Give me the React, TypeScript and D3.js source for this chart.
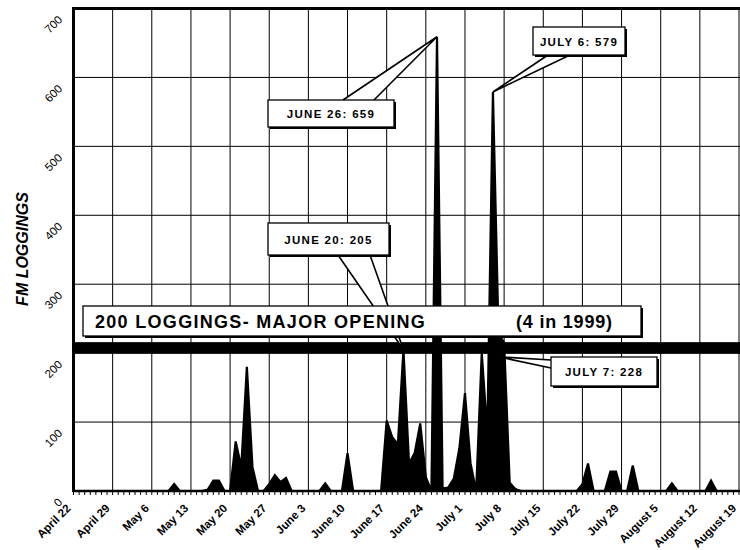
import React, { useEffect, useRef } from 'react';
import * as d3 from 'd3';

// FM loggings per day, 1999 season (only days with activity plus zero anchors)
const logDates = [
    '1999-04-22', '1999-05-09', '1999-05-10', '1999-05-11', '1999-05-15', '1999-05-16', '1999-05-17', '1999-05-18',
    '1999-05-19', '1999-05-20', '1999-05-21', '1999-05-22', '1999-05-23', '1999-05-24', '1999-05-25', '1999-05-26',
    '1999-05-27', '1999-05-28', '1999-05-29', '1999-05-30', '1999-05-31', '1999-06-05', '1999-06-06', '1999-06-07',
    '1999-06-09', '1999-06-10', '1999-06-11', '1999-06-16', '1999-06-17', '1999-06-18', '1999-06-19', '1999-06-20',
    '1999-06-21', '1999-06-22', '1999-06-23', '1999-06-24', '1999-06-25', '1999-06-26', '1999-06-27', '1999-06-28',
    '1999-06-29', '1999-06-30', '1999-07-01', '1999-07-02', '1999-07-03', '1999-07-04', '1999-07-05', '1999-07-06',
    '1999-07-07', '1999-07-08', '1999-07-09', '1999-07-10', '1999-07-11', '1999-07-21', '1999-07-22', '1999-07-23',
    '1999-07-24', '1999-07-26', '1999-07-27', '1999-07-28', '1999-07-29', '1999-07-30', '1999-07-31', '1999-08-01',
    '1999-08-06', '1999-08-07', '1999-08-08', '1999-08-13', '1999-08-14', '1999-08-15', '1999-08-19',
];
const logValues = [
    0, 0, 10, 0, 0, 2, 15, 15,
    0, 0, 72, 35, 180, 35, 0, 0,
    10, 23, 13, 19, 0, 0, 11, 0,
    0, 55, 0, 0, 102, 78, 68, 205,
    40, 55, 98, 20, 0, 659, 4, 5,
    18, 62, 142, 40, 0, 200, 84, 579,
    228, 215, 12, 3, 0, 0, 10, 40,
    0, 0, 28, 28, 0, 0, 37, 0,
    0, 11, 0, 0, 15, 0, 0,
];

const weekLabels = [
    'April 22', 'April 29', 'May 6', 'May 13', 'May 20', 'May 27', 'June 3', 'June 10', 'June 17',
    'June 24', 'July 1', 'July 8', 'July 15', 'July 22', 'July 29', 'August 5', 'August 12', 'August 19',
];
const yTicks = [0, 100, 200, 300, 400, 500, 600, 700];

const MAJOR_OPENING = 200;

const callouts = [
    { date: '1999-06-26', value: 659, label: 'JUNE 26: 659', box: [268, 100, 126, 27], base: [[343, 100], [374, 100]], tipDy: 0 },
    { date: '1999-07-06', value: 579, label: 'JULY 6: 579', box: [533, 27, 92, 28], base: [[548, 55], [570, 55]], tipDy: 0 },
    { date: '1999-06-20', value: 205, label: 'JUNE 20: 205', box: [268, 223, 121, 32], base: [[338, 255], [370, 255]], tipDy: 0 },
    { date: '1999-07-07', value: 228, label: 'JULY 7: 228', box: [551, 357, 106, 29], base: [[551, 360], [551, 368]], tipDy: 23 },
];

const FONT = '"Liberation Sans", Arial, sans-serif';

export default function App() {
    const svgRef = useRef<SVGSVGElement>(null);

    useEffect(() => {
        document.body.style.margin = '0';
        if (!svgRef.current) return;
        const width = 740;
        const height = 550;
        const svg = d3.select(svgRef.current).attr('width', width).attr('height', height);
        svg.selectAll('*').remove();

        const parse = d3.timeParse('%Y-%m-%d');
        const start = parse('1999-04-22')!;
        const end = parse('1999-08-19')!;
        const x = d3.scaleTime().domain([start, end]).range([73.5, 739]);
        const y = d3.scaleLinear().domain([0, 700]).range([491, 8.5]);
        const data = logDates.map((d, i) => ({ date: parse(d)!, value: logValues[i] }));
        const weekDates = weekLabels.map((_, i) => d3.timeDay.offset(start, i * 7));

        svg.append('rect').attr('width', width).attr('height', height).attr('fill', '#fff');

        // grid
        svg.append('g').selectAll('line').data(yTicks.slice(1)).enter().append('line')
            .attr('x1', x(start)).attr('x2', width).attr('y1', d => y(d)).attr('y2', d => y(d))
            .attr('stroke', '#000').attr('stroke-width', 1);
        svg.append('g').selectAll('line').data(weekDates.slice(1)).enter().append('line')
            .attr('x1', d => x(d)).attr('x2', d => x(d)).attr('y1', y(700)).attr('y2', y(0))
            .attr('stroke', '#000').attr('stroke-width', 1);

        // area
        const area = d3.area<{ date: Date; value: number }>()
            .x(d => x(d.date)).y0(y(0)).y1(d => y(d.value));
        svg.append('path').datum(data).attr('d', area)
            .attr('fill', '#000').attr('stroke', '#000').attr('stroke-width', 2.2).attr('stroke-linejoin', 'miter');

        // major opening band
        svg.append('rect').attr('x', x(start)).attr('y', y(MAJOR_OPENING) - 11)
            .attr('width', width - x(start)).attr('height', 11.5).attr('fill', '#000');

        // frame
        svg.append('line').attr('x1', x(start)).attr('x2', x(start)).attr('y1', y(700) - 1.5).attr('y2', y(0) + 1)
            .attr('stroke', '#000').attr('stroke-width', 3);
        svg.append('line').attr('x1', x(start)).attr('x2', width).attr('y1', y(700)).attr('y2', y(700))
            .attr('stroke', '#000').attr('stroke-width', 3);
        svg.append('line').attr('x1', x(start)).attr('x2', width).attr('y1', y(0)).attr('y2', y(0))
            .attr('stroke', '#000').attr('stroke-width', 2.5);

        // daily minor ticks
        const days = d3.timeDay.range(start, d3.timeDay.offset(end, 1));
        svg.append('g').selectAll('line').data(days).enter().append('line')
            .attr('x1', d => x(d)).attr('x2', d => x(d)).attr('y1', y(0)).attr('y2', y(0) + 4)
            .attr('stroke', '#000').attr('stroke-width', 1);

        // y labels
        svg.append('g').selectAll('text').data(yTicks).enter().append('text')
            .attr('transform', d => `translate(63,${y(d) + 12}) rotate(-45)`)
            .attr('text-anchor', 'end').attr('font-family', FONT).attr('font-size', 11.5)
            .attr('fill', '#000').text(d => d);

        // x labels
        svg.append('g').selectAll('text').data(weekDates).enter().append('text')
            .attr('transform', d => `translate(${x(d) - 2},509) rotate(-45)`)
            .attr('text-anchor', 'end').attr('font-family', FONT).attr('font-size', 11.5).attr('font-weight', 'bold')
            .attr('fill', '#000').text((_, i) => weekLabels[i]);

        // y title
        svg.append('text').attr('transform', 'translate(28,249) rotate(-90)')
            .attr('text-anchor', 'middle').attr('font-family', FONT).attr('font-size', 16)
            .attr('font-weight', 'bold').attr('font-style', 'italic').text('FM LOGGINGS');

        const drawBox = (bx: number, by: number, bw: number, bh: number) => {
            svg.append('rect').attr('x', bx + 2).attr('y', by + 2).attr('width', bw).attr('height', bh).attr('fill', '#000');
            svg.append('rect').attr('x', bx).attr('y', by).attr('width', bw).attr('height', bh)
                .attr('fill', '#fff').attr('stroke', '#000').attr('stroke-width', 1.3);
        };

        // callouts
        callouts.forEach(c => {
            const tip: [number, number] = [x(parse(c.date)!), y(c.value) + c.tipDy];
            const [b1, b2] = c.base;
            svg.append('path').attr('d', `M${b1[0]},${b1[1]}L${tip[0]},${tip[1]}L${b2[0]},${b2[1]}Z`)
                .attr('fill', '#fff').attr('stroke', 'none');
            svg.append('path').attr('d', `M${b1[0]},${b1[1]}L${tip[0]},${tip[1]}L${b2[0]},${b2[1]}`)
                .attr('fill', 'none').attr('stroke', '#000').attr('stroke-width', 1.6);
            const [bx, by, bw, bh] = c.box;
            drawBox(bx, by, bw, bh);
            svg.append('text').attr('x', bx + bw / 2).attr('y', by + bh / 2 + 4.5)
                .attr('text-anchor', 'middle').attr('font-family', FONT).attr('font-size', 11.5)
                .attr('font-weight', 'bold').attr('letter-spacing', 1.3).text(c.label);
        });

        // major opening box
        drawBox(83, 306, 558, 30);
        svg.append('text').attr('x', 95).attr('y', 328).attr('font-family', FONT).attr('font-size', 18)
            .attr('font-weight', 'bold').attr('letter-spacing', 1.3).text(`${MAJOR_OPENING} LOGGINGS- MAJOR OPENING`);
        svg.append('text').attr('x', 516).attr('y', 328).attr('font-family', FONT).attr('font-size', 18)
            .attr('font-weight', 'bold').attr('letter-spacing', 0.8).text('(4 in 1999)');
    }, []);

    return <svg ref={svgRef} style={{ display: 'block' }} />;
}
